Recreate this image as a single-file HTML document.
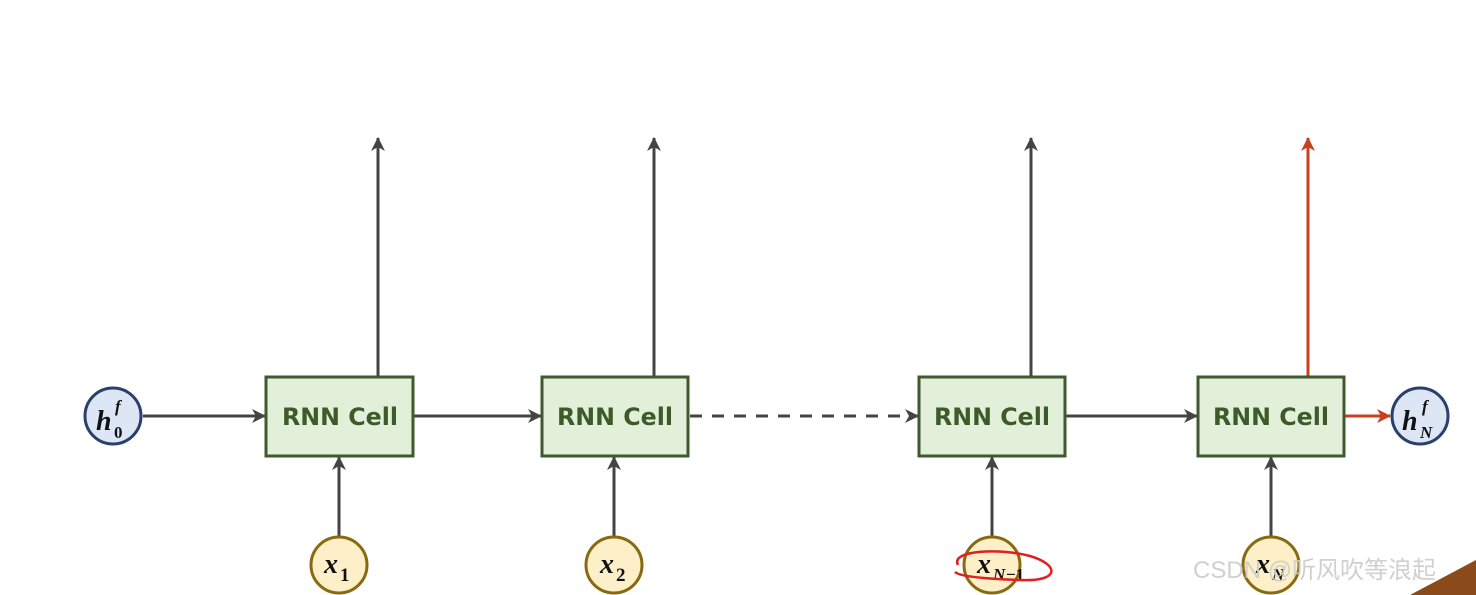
<!DOCTYPE html>
<html><head><meta charset="utf-8"><style>
body{margin:0;background:#fff;}
svg{display:block}
.bt{font-family:"DejaVu Sans","Liberation Sans",sans-serif;font-weight:bold;font-size:24px;fill:#3c5a2a}
.m{font-family:"Liberation Serif",serif;font-style:italic;font-weight:bold;fill:#111}
.s{font-family:"Liberation Serif",serif;font-weight:bold;fill:#111}
</style></head><body>
<svg width="1476" height="595" viewBox="0 0 1476 595" xmlns="http://www.w3.org/2000/svg">
<defs>
<marker id="a" markerWidth="14" markerHeight="14" refX="13" refY="7" orient="auto" markerUnits="userSpaceOnUse"><path d="M0,0 L14,7 L0,14 L4,7 Z" fill="#444"/></marker>
<marker id="r" markerWidth="14" markerHeight="14" refX="13" refY="7" orient="auto" markerUnits="userSpaceOnUse"><path d="M0,0 L14,7 L0,14 L4,7 Z" fill="#c8401f"/></marker>
</defs>
<g stroke="#444" stroke-width="3" fill="none">
<line x1="378" y1="376" x2="378" y2="138" marker-end="url(#a)"/>
<line x1="654" y1="376" x2="654" y2="138" marker-end="url(#a)"/>
<line x1="1031" y1="376" x2="1031" y2="138" marker-end="url(#a)"/>
<line x1="143" y1="416" x2="265" y2="416" marker-end="url(#a)"/>
<line x1="413" y1="416" x2="541" y2="416" marker-end="url(#a)"/>
<line x1="690" y1="416" x2="918" y2="416" stroke-dasharray="12,10" marker-end="url(#a)"/>
<line x1="1065" y1="416" x2="1197" y2="416" marker-end="url(#a)"/>
<line x1="339" y1="536" x2="339" y2="457" marker-end="url(#a)"/>
<line x1="614" y1="536" x2="614" y2="457" marker-end="url(#a)"/>
<line x1="992" y1="536" x2="992" y2="457" marker-end="url(#a)"/>
<line x1="1271" y1="536" x2="1271" y2="457" marker-end="url(#a)"/>
</g>
<g stroke="#c8401f" stroke-width="3" fill="none">
<line x1="1308" y1="376" x2="1308" y2="138" marker-end="url(#r)"/>
<line x1="1344" y1="416" x2="1390" y2="416" marker-end="url(#r)"/>
</g>
<g fill="#e2efd9" stroke="#3f5a2e" stroke-width="3">
<rect x="266" y="377" width="147" height="79"/>
<rect x="542" y="377" width="146" height="79"/>
<rect x="919" y="377" width="146" height="79"/>
<rect x="1198" y="377" width="146" height="79"/>
</g>
<g class="bt" text-anchor="middle" textLength="116">
<text x="340" y="425" textLength="116" lengthAdjust="spacingAndGlyphs">RNN Cell</text>
<text x="615" y="425" textLength="116" lengthAdjust="spacingAndGlyphs">RNN Cell</text>
<text x="992" y="425" textLength="116" lengthAdjust="spacingAndGlyphs">RNN Cell</text>
<text x="1271" y="425" textLength="116" lengthAdjust="spacingAndGlyphs">RNN Cell</text>
</g>
<g fill="#dde6f5" stroke="#2a3f6b" stroke-width="3">
<circle cx="113" cy="416" r="28"/>
<circle cx="1420" cy="416" r="28"/>
</g>
<g fill="#fdf0c8" stroke="#8a6a10" stroke-width="3">
<circle cx="339" cy="565" r="28"/>
<circle cx="614" cy="565" r="28"/>
<circle cx="992" cy="565" r="28"/>
<circle cx="1271" cy="565" r="28"/>
</g>
<text class="m" x="96" y="430" font-size="28">h</text>
<text class="m" x="115" y="412" font-size="17">f</text>
<text class="s" x="114" y="438" font-size="17">0</text>
<text class="m" x="1402" y="430" font-size="28">h</text>
<text class="m" x="1422" y="412" font-size="17">f</text>
<text class="m" x="1420" y="438" font-size="17">N</text>
<text class="m" x="324" y="573" font-size="28">x</text><text class="s" x="340" y="581" font-size="19">1</text>
<text class="m" x="600" y="573" font-size="28">x</text><text class="s" x="616" y="581" font-size="19">2</text>
<text class="m" x="977" y="573" font-size="28">x</text><text class="m" x="993" y="580" font-size="17">N</text><text class="s" x="1006" y="580" font-size="17">−1</text>
<text class="m" x="1256" y="573" font-size="28">x</text><text class="m" x="1272" y="580" font-size="17">N</text>
<path d="M958,565 C950,550 1000,548 1030,556 C1060,565 1060,582 1020,580 C990,579 960,577 955,572" stroke="#e02020" stroke-width="2.5" fill="none"/>
<text x="1193" y="578" font-family="Liberation Sans,'Noto Sans CJK SC',sans-serif" font-size="24" fill="#ccc" opacity="0.9">CSDN @听风吹等浪起</text>
<path d="M1410,595 L1476,560 L1476,595 Z" fill="#8a4a1a"/>
</svg>
</body></html>
